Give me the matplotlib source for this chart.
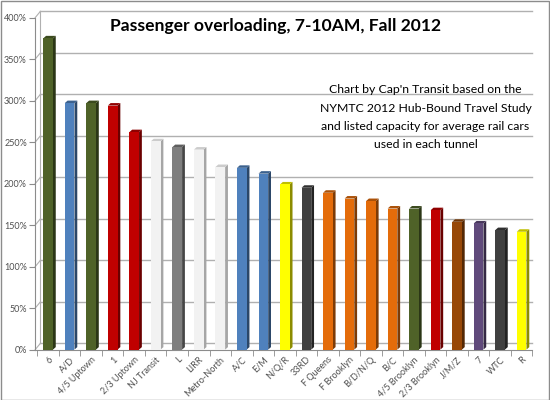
import matplotlib
matplotlib.use('Agg')
from matplotlib import pyplot as plt
from matplotlib import colors as mcolors
from matplotlib.patches import Polygon, Rectangle
import numpy as np

plt.rcParams['font.family'] = ['Lato', 'DejaVu Sans']

tunnels = ['6', 'A/D', '4/5 Uptown', '1', '2/3 Uptown', 'NJ Transit', 'L', 'LIRR',
           'Metro-North', 'A/C', 'E/M', 'N/Q/R', '33RD', 'F Queens', 'F Brooklyn',
           'B/D/N/Q', 'B/C', '4/5 Brooklyn', '2/3 Brooklyn', 'J/M/Z', '7', 'WTC', 'R']
overload = [375, 297, 297, 294, 262, 251, 244, 241, 220, 219, 212, 199, 195, 189,
            182, 179, 170, 170, 168, 154, 152, 144, 142]
line_colors = ['#4F6228', '#4F81BD', '#4F6228', '#C00000', '#C00000', '#F2F2F2',
               '#7F7F7F', '#F2F2F2', '#F2F2F2', '#4F81BD', '#4F81BD', '#FFFF00',
               '#404040', '#E46C0A', '#E46C0A', '#E46C0A', '#E46C0A', '#4F6228',
               '#C00000', '#984807', '#604A7B', '#404040', '#FFFF00']
y_ticks = [0, 50, 100, 150, 200, 250, 300, 350, 400]

fig = plt.figure(figsize=(5.5, 4), dpi=100)
fig.patches.append(Rectangle((0.001, 0.001), 0.997, 0.996, transform=fig.transFigure,
                             fill=False, edgecolor='#8C8C8C', linewidth=1))
ax = fig.add_axes([0.064, 0.126, 0.904, 0.83])
ax.set_xlim(-0.6, 22.5)
ax.set_ylim(0, 400)

# back wall gridlines (shifted up/right like the 3D wall)
dx, dy = 0.12, 7.5
for v in y_ticks:
    ax.plot([-0.6 + dx * 2, 22.5], [v + dy, v + dy], color='#B0B0B0', lw=1, zorder=1,
            clip_on=False)
    ax.plot([-0.6, -0.6 + dx * 2], [v, v + dy], color='#B0B0B0', lw=0.8, zorder=1,
            clip_on=False)
ax.plot([-0.6 + dx * 2, -0.6 + dx * 2], [dy, 400 + dy], color='#B0B0B0', lw=0.8,
        clip_on=False)

# bars with side and top faces
w = 0.45
sx, sy = 0.13, 3.0
for i, (v, c) in enumerate(zip(overload, line_colors)):
    rgb = np.array(mcolors.to_rgb(c))
    side = rgb * 0.55 if c != '#F2F2F2' else np.array([0.65, 0.65, 0.65])
    top = rgb * 0.75 if c != '#F2F2F2' else np.array([0.8, 0.8, 0.8])
    x0, x1 = i - w / 2, i + w / 2
    ax.add_patch(Polygon([(x1, 0), (x1 + sx, sy), (x1 + sx, v + sy), (x1, v)],
                         closed=True, facecolor=side, edgecolor='none', zorder=3))
    ax.add_patch(Polygon([(x0, v), (x0 + sx, v + sy), (x1 + sx, v + sy), (x1, v)],
                         closed=True, facecolor=top, edgecolor='none', zorder=3))
    ax.bar(i, v, width=w, color=c, edgecolor='none', zorder=4)

for s in ['top', 'right']:
    ax.spines[s].set_visible(False)
ax.spines['left'].set_color('#8C8C8C')
ax.spines['bottom'].set_color('#8C8C8C')

ax.set_yticks(y_ticks)
ax.set_yticklabels([f'{v}%' for v in y_ticks], fontsize=6.5, color='#505050')
ax.tick_params(axis='y', length=4, color='#8C8C8C', pad=2)

ax.set_xticks(range(len(tunnels)))
ax.set_xticklabels(tunnels, rotation=45, ha='right', rotation_mode='anchor',
                   fontsize=6.5, color='#505050')
ax.tick_params(axis='x', length=0, pad=4)
ax.set_xticks(np.arange(-0.5, len(tunnels), 1), minor=True)
ax.tick_params(axis='x', which='minor', length=4, color='#8C8C8C')

ax.text(0.483, 0.975, 'Passenger overloading, 7-10AM, Fall 2012', transform=ax.transAxes,
        ha='center', va='center', fontsize=12.6, fontweight='bold', zorder=6)
ax.text(0.785, 0.70, "Chart by Cap'n Transit based on the\nNYMTC 2012 Hub-Bound Travel Study\n"
        "and listed capacity for average rail cars\nused in each tunnel",
        transform=ax.transAxes, ha='center', va='center', fontsize=8.8,
        linespacing=1.8, zorder=6)

plt.savefig('out.png', dpi=100)
